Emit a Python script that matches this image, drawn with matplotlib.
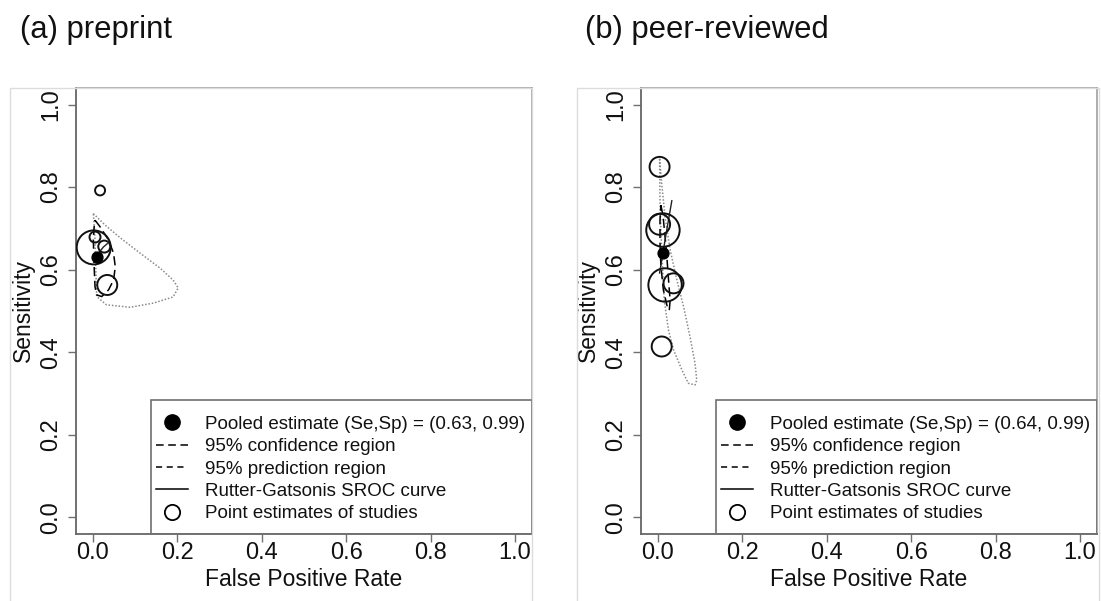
import matplotlib
matplotlib.use('Agg')
import matplotlib.pyplot as plt
from matplotlib.lines import Line2D
from matplotlib.patches import Rectangle

plt.rcParams['font.family'] = ['Liberation Sans', 'DejaVu Sans']

# (a) preprint: study estimates (false positive rate, sensitivity, relative weight)
pre_fpr = [0.017, 0.002, 0.005, 0.027, 0.034]
pre_se = [0.792, 0.654, 0.679, 0.656, 0.563]
pre_w = [5, 17, 5.5, 6, 10]
pre_pooled = (0.009, 0.63)
pre_label = "Pooled estimate (Se,Sp) = (0.63, 0.99)"

# outlines
pre_conf_fpr = [0.005, 0.017, 0.037, 0.049, 0.053, 0.049, 0.037, 0.021, 0.009, 0.005, 0.003, 0.001, 0.003, 0.005]
pre_conf_se = [0.720, 0.704, 0.672, 0.640, 0.607, 0.575, 0.551, 0.535, 0.539, 0.559, 0.607, 0.672, 0.704, 0.720]
pre_pred_fpr = [0.001, 0.009, 0.029, 0.065, 0.112, 0.159, 0.190, 0.202, 0.190, 0.143, 0.088, 0.032, 0.009, 0.007, 0.005, 0.003, 0.001]
pre_pred_se = [0.736, 0.728, 0.708, 0.677, 0.640, 0.604, 0.575, 0.556, 0.534, 0.519, 0.509, 0.515, 0.535, 0.599, 0.672, 0.708, 0.736]
pre_sroc_fpr = [0.002, 0.009, 0.017, 0.025, 0.034]
pre_sroc_se = [0.618, 0.632, 0.645, 0.655, 0.663]

# (b) peer-reviewed
peer_fpr = [0.004, 0.004, 0.012, 0.017, 0.037, 0.009]
peer_se = [0.849, 0.710, 0.696, 0.563, 0.567, 0.414]
peer_w = [10, 10.5, 16.7, 16.7, 10, 10]
peer_pooled = (0.012, 0.641)
peer_label = "Pooled estimate (Se,Sp) = (0.64, 0.99)"

peer_conf_fpr = [0.007, 0.012, 0.020, 0.027, 0.029, 0.027, 0.023, 0.013, 0.007, 0.005, 0.005, 0.007]
peer_conf_se = [0.756, 0.732, 0.648, 0.551, 0.527, 0.502, 0.507, 0.551, 0.610, 0.664, 0.720, 0.756]
peer_pred_fpr = [0.004, 0.005, 0.009, 0.015, 0.025, 0.037, 0.057, 0.072, 0.088, 0.092, 0.088, 0.076, 0.061, 0.045, 0.029, 0.017, 0.009, 0.005, 0.004]
peer_pred_se = [0.869, 0.761, 0.648, 0.527, 0.454, 0.406, 0.357, 0.325, 0.321, 0.333, 0.373, 0.438, 0.510, 0.575, 0.648, 0.728, 0.809, 0.857, 0.869]
peer_sroc_fpr = [0.004, 0.012, 0.022, 0.033]
peer_sroc_se = [0.592, 0.641, 0.702, 0.767]

ticks = [0.0, 0.2, 0.4, 0.6, 0.8, 1.0]
tick_labels = ["0.0", "0.2", "0.4", "0.6", "0.8", "1.0"]

W, H = 1101, 601
fig = plt.figure(figsize=(W / 100, H / 100), dpi=100)

# faint panel frames
for x0 in (10, 577):
    fig.patches.append(Rectangle((x0 / W, -0.01), 522 / W, (601 - 88) / H + 0.01,
                                 transform=fig.transFigure, fill=False,
                                 edgecolor='#dcdcdc', lw=1.0, zorder=0))


def panel(left, title, fpr, se, w, pooled, label, cfx, cfy, pdx, pdy, srx, sry):
    ax = fig.add_axes([left / W, 1 - 534 / H, 456 / W, 446 / H])
    ax.plot(pdx, pdy, color='#8a8a8a', lw=1.1, ls=(0, (1, 1.2)), zorder=2)
    ax.plot(cfx, cfy, color='black', lw=1.1, ls=(0, (6, 3)), zorder=3)
    ax.plot(srx, sry, color='#222222', lw=1.0, zorder=3)
    ax.scatter(fpr, se, s=[(2 * r * 0.72) ** 2 for r in w], facecolors='none',
               edgecolors='#111111', linewidths=1.4, zorder=4)
    ax.plot(*pooled, 'o', color='black', markersize=7.8, zorder=5)

    ax.set_xlim(-0.04, 1.04)
    ax.set_ylim(-0.04, 1.04)
    ax.set_xticks(ticks, tick_labels)
    ax.set_yticks(ticks, tick_labels)
    for lab in ax.get_yticklabels():
        lab.set_rotation(90)
        lab.set_va('center')
    ax.tick_params(direction='out', length=5.8, width=1.0, color='#707070',
                   labelsize=17, labelcolor='#111111')
    ax.tick_params(axis='y', pad=4)
    ax.tick_params(axis='x', pad=0)
    for side in ('left', 'bottom'):
        ax.spines[side].set_color('#666666')
        ax.spines[side].set_linewidth(1.3)
    for side in ('top', 'right'):
        ax.spines[side].set_color('#a0a0a0')
        ax.spines[side].set_linewidth(1.2)
    ax.set_xlabel("False Positive Rate", fontsize=16.5, color='#111111', labelpad=3)
    ax.set_ylabel("Sensitivity", fontsize=16.5, color='#111111', labelpad=4)

    # legend
    ax.add_patch(Rectangle((75 / 456, 0), 381 / 456, 134 / 446, transform=ax.transAxes,
                           fill=False, edgecolor='#707070', lw=1.2, zorder=6))
    handles = [
        Line2D([], [], marker='o', color='black', ls='none', markersize=11),
        Line2D([], [], color='black', lw=1.1, ls=(0, (5, 3))),
        Line2D([], [], color='black', lw=1.1, ls=(0, (4, 3))),
        Line2D([], [], color='black', lw=1.1),
        Line2D([], [], marker='o', color='black', markerfacecolor='none',
               markeredgewidth=1.3, ls='none', markersize=11),
    ]
    labels = [label, "95% confidence region", "95% prediction region",
              "Rutter-Gatsonis SROC curve", "Point estimates of studies"]
    ax.legend(handles, labels, loc='upper left', bbox_to_anchor=(80 / 456, 0.265),
              frameon=False, borderpad=0, borderaxespad=0, fontsize=13.5,
              handlelength=1.7, handletextpad=0.9, labelspacing=0.28,
              labelcolor='#111111')

    fig.text((left - 56) / W, 1 - 30 / H, title, fontsize=22.3, va='center', ha='left',
             color='#111111')
    return ax


panel(76, "(a) preprint", pre_fpr, pre_se, pre_w, pre_pooled, pre_label,
      pre_conf_fpr, pre_conf_se, pre_pred_fpr, pre_pred_se, pre_sroc_fpr, pre_sroc_se)
panel(641, "(b) peer-reviewed", peer_fpr, peer_se, peer_w, peer_pooled, peer_label,
      peer_conf_fpr, peer_conf_se, peer_pred_fpr, peer_pred_se, peer_sroc_fpr, peer_sroc_se)

fig.savefig("out.png", dpi=100)
